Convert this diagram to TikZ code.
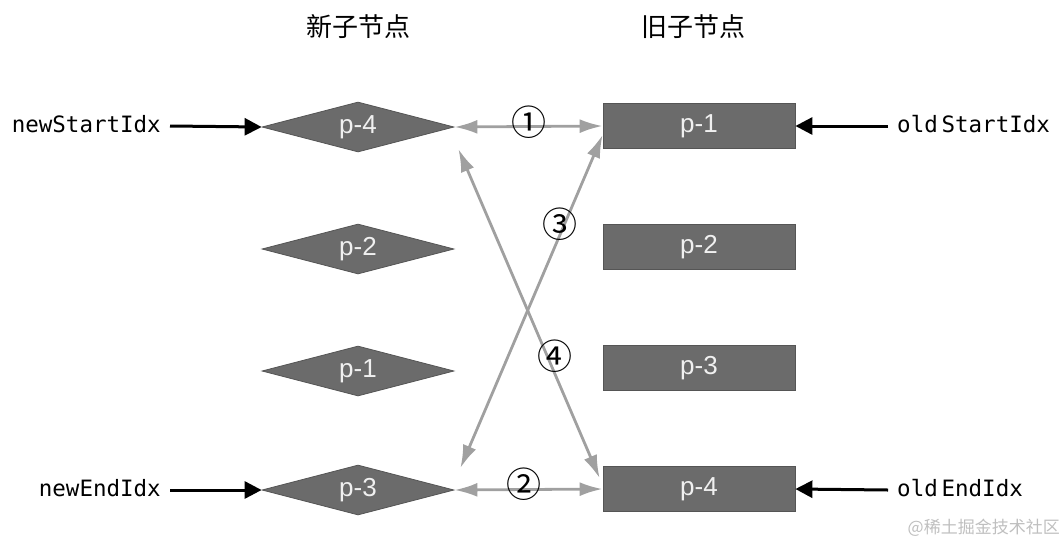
\documentclass[tikz,border=0pt]{standalone}
\usepackage{fontspec}
\setmainfont{Liberation Sans}
\newfontfamily\cjk{Noto Sans CJK SC}
\newfontfamily\monof{DejaVu Sans Mono}
\usetikzlibrary{shapes.geometric,arrows.meta,calc}
\definecolor{boxfill}{HTML}{6B6B6B}
\definecolor{boxdraw}{HTML}{555555}
\definecolor{linkgray}{HTML}{A0A0A0}
\definecolor{labwhite}{HTML}{F0F0F0}
\tikzset{
  newnode/.style={diamond, aspect=3.84, minimum width=192pt, minimum height=50pt, inner sep=0pt,
    fill=boxfill, draw=boxdraw, line width=0.8pt, text=labwhite, font=\fontsize{26}{26}\selectfont},
  oldnode/.style={rectangle, minimum width=192pt, minimum height=45pt, inner sep=0pt,
    fill=boxfill, draw=boxdraw, line width=0.8pt, text=labwhite, font=\fontsize{26}{26}\selectfont},
  idxlabel/.style={font=\monof\fontsize{22.5}{22.5}\selectfont, inner sep=0pt},
  title/.style={font=\cjk\fontsize{26}{26}\selectfont, inner sep=0pt},
  ptr/.style={line width=3pt, -{Triangle[length=17pt,width=17pt]}},
  link/.style={draw=linkgray, line width=2.8pt, {Latex[length=23pt,width=14pt]}-{Latex[length=23pt,width=14pt]}},
  numlab/.style={font=\cjk\fontsize{35}{35}\selectfont, inner sep=0pt},
}
\begin{document}
\begin{tikzpicture}[x=1pt,y=-1pt]
\useasboundingbox (0,0) rectangle (1064,546);
\node[title] (tnew) at (358,27) {新子节点};
\node[title] (told) at (693,27) {旧子节点};

\node[newnode] (n1) at (358,127) {p-4};
\node[newnode] (n2) at (358,249) {p-2};
\node[newnode] (n3) at (358,371) {p-1};
\node[newnode] (n4) at (358,490) {p-3};

\node[oldnode] (o1) at (699,126) {p-1};
\node[oldnode] (o2) at (699,247) {p-2};
\node[oldnode] (o3) at (699,368) {p-3};
\node[oldnode] (o4) at (699,489) {p-4};

\node[idxlabel, anchor=east] (ns) at (161,124) {newStartIdx};
\node[idxlabel, anchor=east] (ne) at (161,488) {newEndIdx};
\node[idxlabel, anchor=west] (os) at (897,124) {old\,StartIdx};
\node[idxlabel, anchor=west] (oe) at (897,488) {old\,EndIdx};

\draw[ptr] (ns.east) ++(9,2) -- (n1.west);
\draw[ptr] (ne.east) ++(9,2) -- (n4.west);
\draw[ptr] (os.west) ++(-9,2) -- (o1.east);
\draw[ptr] (oe.west) ++(-9,2) -- (o4.east);

\draw[link] (n1.east) -- (o1.west);
\draw[link] (n4.east) -- (o4.west);
\draw[link] ($(n4.east)+(6,-22)$) -- ($(o1.south west)+(0,-14)$);
\draw[link] ($(n1.east)+(4,22)$) -- ($(o4.north west)+(-3,12)$);

\node[numlab] (c1) at (529,122) {①};
\node[numlab] (c2) at (524,484) {②};
\node[numlab] (c3) at (560,224) {③};
\node[numlab] (c4) at (555,356) {④};

\node[font=\cjk\fontsize{17}{17}\selectfont, text=black!25, anchor=east, inner sep=0pt] (wm) at (1060,528) {@稀土掘金技术社区};
\end{tikzpicture}
\end{document}
